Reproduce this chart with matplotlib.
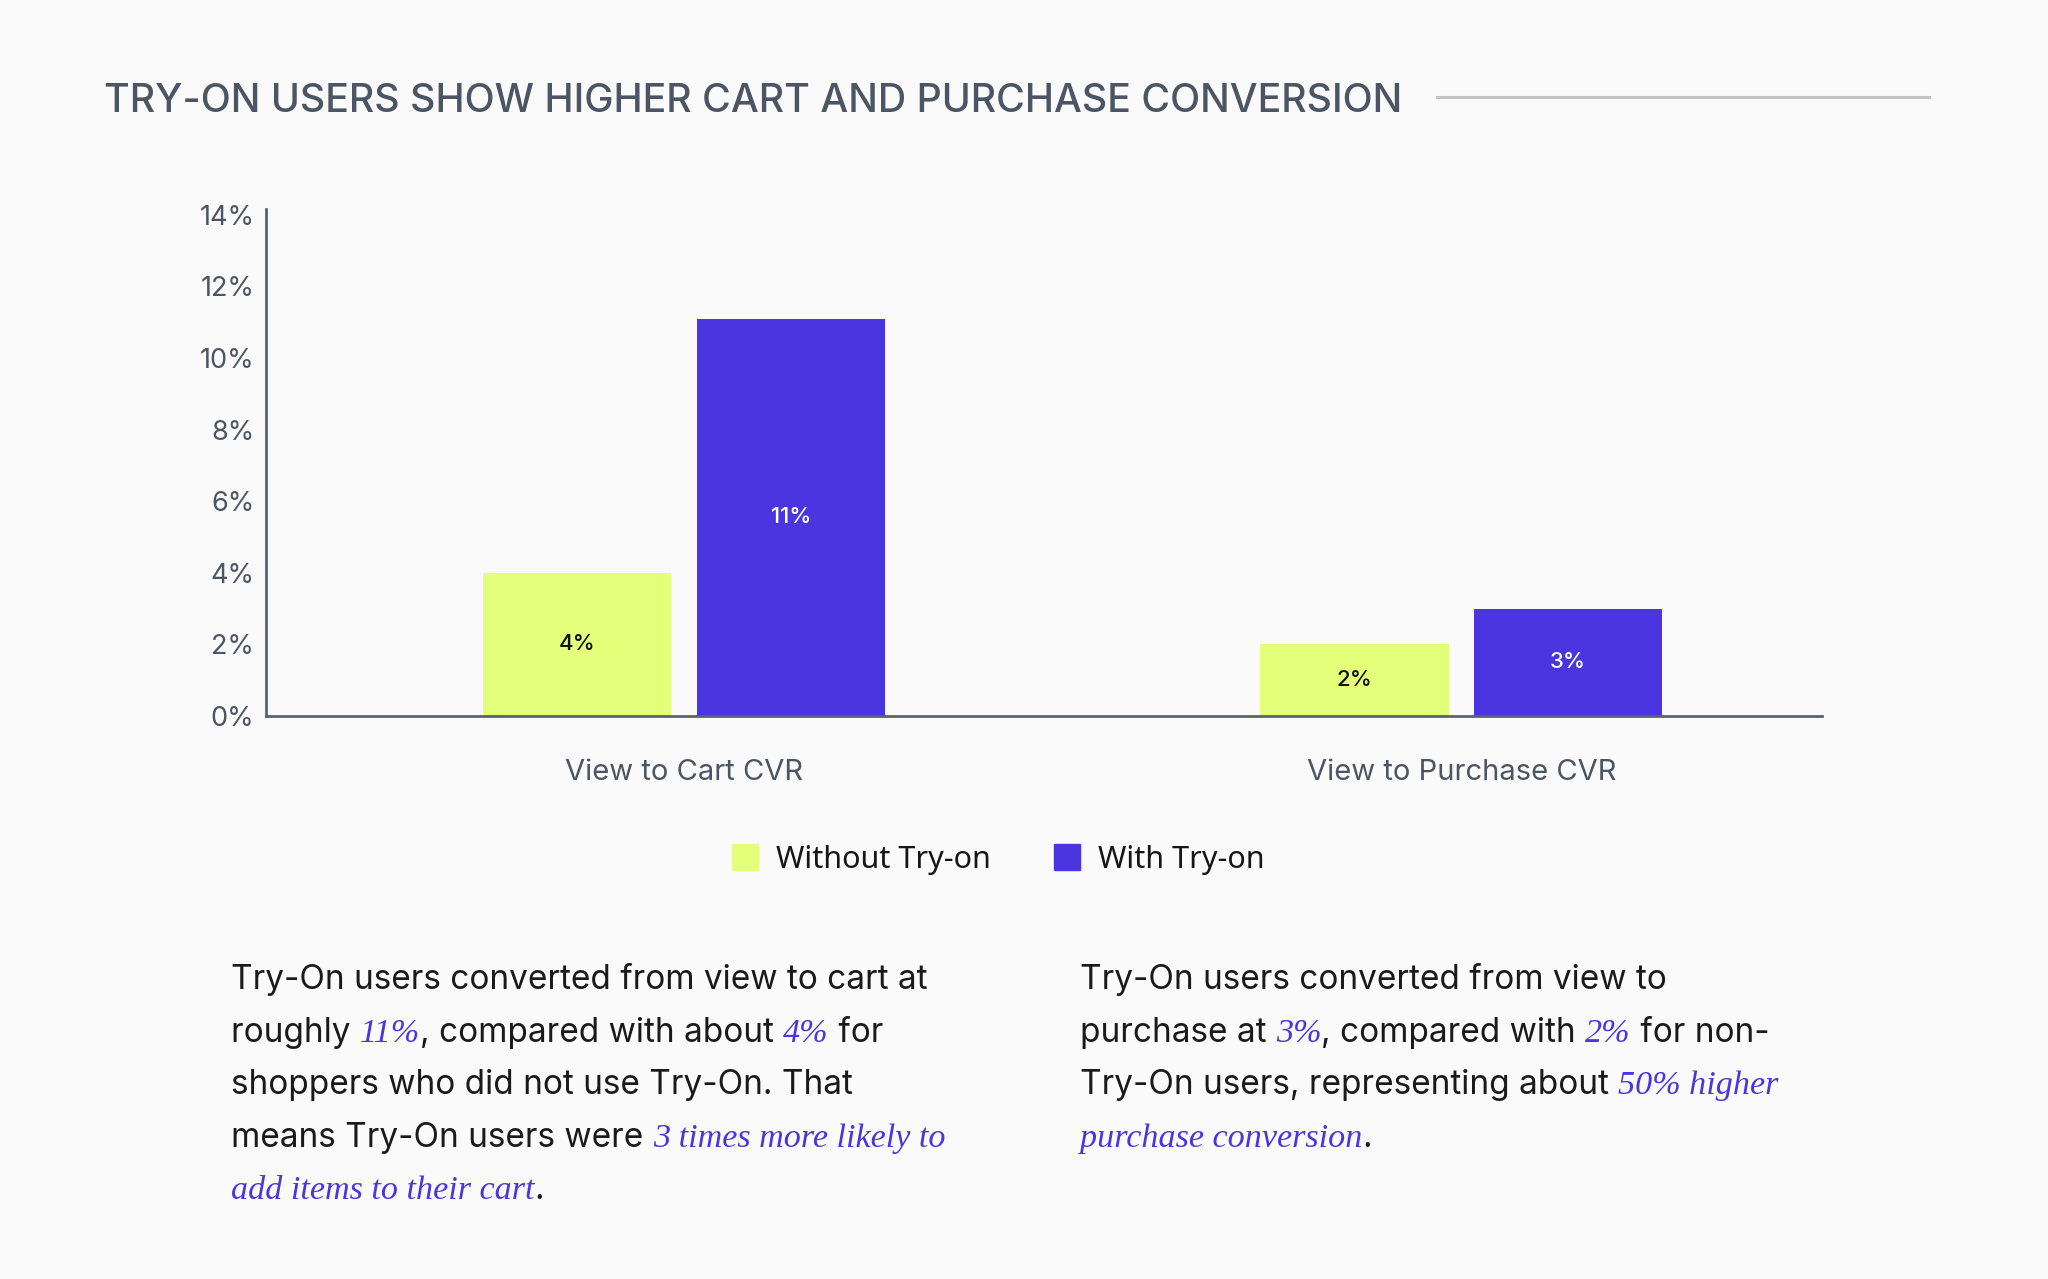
import numpy as np
import matplotlib
matplotlib.use("Agg")
import matplotlib.pyplot as plt
from matplotlib.lines import Line2D
from matplotlib.transforms import IdentityTransform

# ---- data ----
categories = ["View to Cart CVR", "View to Purchase CVR"]
without_tryon = [4.0, 2.0]
with_tryon = [11.1, 3.0]
without_labels = ["4%", "2%"]
with_labels = ["11%", "3%"]
series_names = ["Without Try-on", "With Try-on"]
yticks = [0, 2, 4, 6, 8, 10, 12, 14]
ytick_labels = ["0%", "2%", "4%", "6%", "8%", "10%", "12%", "14%"]
title = "TRY-ON USERS SHOW HIGHER CART AND PURCHASE CONVERSION"

left_para = [
    [("Try-On users converted from view to cart at", "n")],
    [("roughly ", "n"), ("11%", "i"), (", compared with about ", "n"), ("4%", "i"), (" for", "n")],
    [("shoppers who did not use Try-On. That", "n")],
    [("means Try-On users were ", "n"), ("3 times more likely to", "i")],
    [("add items to their cart", "i"), (".", "n")],
]
right_para = [
    [("Try-On users converted from view to", "n")],
    [("purchase at ", "n"), ("3%", "i"), (", compared with ", "n"), ("2%", "i"), (" for non-", "n")],
    [("Try-On users, representing about ", "n"), ("50% higher", "i")],
    [("purchase conversion", "i"), (".", "n")],
]

# ---- styles ----
BG = "#fafafa"
GREEN = "#e4ff7a"
PURPLE = "#4b35e0"
GRAY = "#4b5563"
DARK = "#1a1a1a"
W, H = 2048, 1279

fig = plt.figure(figsize=(W / 100, H / 100), dpi=100, facecolor=BG)
ax = fig.add_axes([266 / W, 1 - 716 / H, (1822 - 266) / W, (716 - 209) / H])
ax.set_facecolor(BG)

x = np.arange(len(categories))
bw = 0.242
off = 0.1375
b1 = ax.bar(x - off, without_tryon, bw, color=GREEN, zorder=2)
b2 = ax.bar(x + off, with_tryon, bw, color=PURPLE, zorder=2)

for rect, lab in zip(b1, without_labels):
    ax.text(rect.get_x() + rect.get_width() / 2, rect.get_height() / 2, lab,
            ha="center", va="center", fontsize=16, color="#111111",
            family="Inter", weight="medium")
for rect, lab in zip(b2, with_labels):
    ax.text(rect.get_x() + rect.get_width() / 2, rect.get_height() / 2, lab,
            ha="center", va="center", fontsize=16, color="white",
            family="Inter", weight="medium")

ax.set_xlim(-0.538, 1.464)
ax.set_ylim(0, 14.16)
ax.set_yticks(yticks)
ax.set_yticklabels(ytick_labels, family="Inter", fontsize=19.5, color=GRAY)
ax.set_xticks(x)
ax.set_xticklabels(categories, family="Inter", fontsize=21, color=GRAY)
ax.tick_params(axis="y", length=0, pad=8.5)
ax.tick_params(axis="x", length=0, pad=31)
for s in ["top", "right"]:
    ax.spines[s].set_visible(False)
for s in ["left", "bottom"]:
    ax.spines[s].set_color("#5b6270")
    ax.spines[s].set_linewidth(2)

# title and rule
fig.text(104 / W, 1 - 102 / H, title, ha="left", va="center", family="Inter",
         weight="medium", fontsize=28.3, color=GRAY)
fig.add_artist(Line2D([1437 / W, 1929 / W], [1 - 97 / H, 1 - 97 / H],
                      transform=fig.transFigure, color="#c4c4c4", lw=2.2))

# legend
handles = [Line2D([], [], marker="s", linestyle="none", markersize=19,
                  markerfacecolor=c, markeredgecolor=c)
           for c in [GREEN, PURPLE]]
fig.legend(handles, series_names, loc="center", bbox_to_anchor=(997 / W, 1 - 860 / H),
           ncol=2, frameon=False, handlelength=1.0, handletextpad=0.5,
           columnspacing=2.0, prop={"family": "Noto Sans", "size": 22},
           labelcolor="#161616")

# rich paragraphs
fig.canvas.draw()
renderer = fig.canvas.get_renderer()


def draw_rich(x0, baseline_top, segs):
    xpos = x0
    for txt, style in segs:
        if style == "i":
            kw = dict(family="Liberation Serif", style="italic", fontsize=24.6, color=PURPLE)
        else:
            kw = dict(family="Inter", fontsize=24, color=DARK)
        t = fig.text(xpos, H - baseline_top, txt, transform=IdentityTransform(),
                     ha="left", va="baseline", **kw)
        bb = t.get_window_extent(renderer)
        xpos = bb.x1


line_h = 52.6
for i, line in enumerate(left_para):
    draw_rich(231, 989 + i * line_h, line)
for i, line in enumerate(right_para):
    draw_rich(1080, 989 + i * line_h, line)

fig.savefig("out.png", dpi=100, facecolor=BG)
